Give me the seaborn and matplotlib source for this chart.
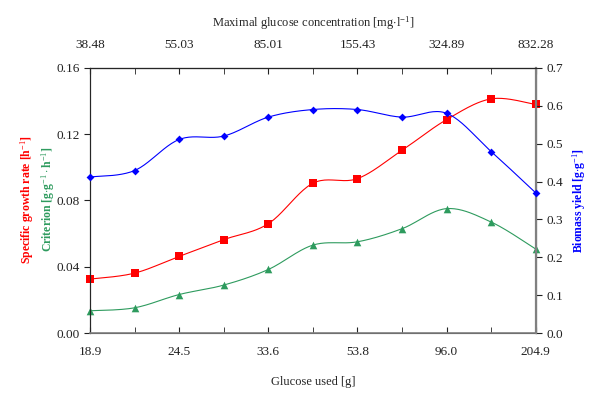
import numpy as np
import pandas as pd
import matplotlib
matplotlib.use("Agg")
import matplotlib.pyplot as plt
import seaborn as sns

# data
glucose_used = ["18.9", "24.5", "33.6", "53.8", "96.0", "204.9"]
max_glucose = ["38.48", "55.03", "85.01", "155.43", "324.89", "832.28"]
growth_rate = [0.0326, 0.0362, 0.0463, 0.0564, 0.0660, 0.0904, 0.0932, 0.1103, 0.1288, 0.1413, 0.1379]
criterion = [0.0135, 0.0153, 0.0233, 0.0290, 0.0384, 0.0531, 0.0551, 0.0630, 0.0751, 0.0670, 0.0507]
biomass_yield = [0.412, 0.429, 0.511, 0.520, 0.570, 0.590, 0.590, 0.570, 0.580, 0.479, 0.370]

idx = np.arange(len(growth_rate))

sns.set_style("ticks")
plt.rcParams["font.family"] = ["Liberation Serif", "DejaVu Serif"]
plt.rcParams["mathtext.fontset"] = "custom"
plt.rcParams["mathtext.rm"] = "Liberation Serif"
plt.rcParams["mathtext.it"] = "Liberation Serif:italic"
plt.rcParams["mathtext.bf"] = "Liberation Serif:bold"


def smooth(y, sx, sy, n=24):
    # excel-like smoothed line (bezier through the points)
    pts = np.column_stack([np.arange(len(y)) * sx, np.asarray(y) * sy])
    pad = np.vstack([pts[0], pts, pts[-1]])
    xs, ys = [], []
    t = np.linspace(0, 1, n)[:, None]
    for i in range(1, len(pad) - 2):
        p0, p1, p2, p3 = pad[i - 1], pad[i], pad[i + 1], pad[i + 2]
        c1 = p1 + (p2 - p0) / 6
        c2 = p2 - (p3 - p1) / 6
        seg = (1 - t) ** 3 * p1 + 3 * (1 - t) ** 2 * t * c1 + 3 * (1 - t) * t ** 2 * c2 + t ** 3 * p2
        xs.append(seg[:, 0])
        ys.append(seg[:, 1])
    return np.concatenate(xs) / sx, np.concatenate(ys) / sy


fig, ax = plt.subplots(figsize=(6, 3.99), dpi=100)
fig.subplots_adjust(left=0.15, right=0.893, top=0.83, bottom=0.165)
ax2 = ax.twinx()

red = "#ff0000"
green = "#2e9b5e"
blue = "#0000ff"

sx = 44.6
for vals, col, mk, ms, a in [(growth_rate, red, "s", 26, ax), (criterion, green, "^", 30, ax)]:
    cx, cy = smooth(vals, sx, 265 / 0.16)
    sns.lineplot(x=cx, y=cy, ax=a, color=col, lw=0.8, sort=False, estimator=None)
    sns.scatterplot(x=idx, y=vals, ax=a, color=col, marker=mk, s=ms, linewidth=0, zorder=3, clip_on=False)

cx, cy = smooth(biomass_yield, sx, 265 / 0.7)
sns.lineplot(x=cx, y=cy, ax=ax2, color=blue, lw=0.8, sort=False, estimator=None)
sns.scatterplot(x=idx, y=biomass_yield, ax=ax2, color=blue, marker="D", s=16, linewidth=0, zorder=3, clip_on=False)

ax.set_xlim(0, 10)
ax.set_ylim(0, 0.16)
ax2.set_ylim(0, 0.7)
ax.set_yticks(np.arange(0, 0.161, 0.04))
ax.set_yticklabels([f"{v:.2f}" for v in np.arange(0, 0.161, 0.04)])
ax2.set_yticks(np.arange(0, 0.71, 0.1))
ax2.set_yticklabels([f"{v:.1f}" for v in np.arange(0, 0.71, 0.1)])

ax.set_xticks(idx[::2])
ax.set_xticklabels(glucose_used)
ax.set_xticks(idx[1::2], minor=True)
ax.tick_params(axis="x", which="both", direction="in", length=4, labelsize=9.5, colors="#222222", pad=9)
ax.tick_params(axis="y", direction="out", length=4, labelsize=9.5, colors="#222222")
ax2.tick_params(axis="y", direction="out", length=4, labelsize=9.5, colors="#222222")

top = ax.secondary_xaxis("top")
top.set_xticks(idx[::2])
top.set_xticklabels(max_glucose)
top.set_xticks(idx[1::2], minor=True)
top.tick_params(axis="x", which="both", direction="in", length=4, labelsize=9.5, colors="#222222", pad=12)
top.set_xlabel(r"Maximal glucose concentration [mg$\cdot$l$^{-1}$]", fontsize=9, labelpad=9)

for s in ["top", "right", "bottom", "left"]:
    ax.spines[s].set_visible(True)
    ax2.spines[s].set_visible(True)
ax2.spines["right"].set_color("#808080")
ax2.spines["right"].set_linewidth(1.6)
ax2.spines["bottom"].set_color("#808080")
ax2.spines["bottom"].set_linewidth(1.2)
ax.spines["left"].set_color("#333333")
ax.spines["top"].set_color("#333333")
top.spines["top"].set_color("#333333")

ax.set_xlabel("Glucose used [g]", fontsize=9, labelpad=13)
ax.set_ylabel("")
ax2.set_ylabel(r"Biomass yield [g$\cdot$g$^{-1}$]", color=blue, fontsize=8.5, fontweight="bold", labelpad=5)
fig.text(0.045, 0.5, r"Specific growth rate [h$^{-1}$]", color=red, fontsize=8.5, fontweight="bold",
         rotation=90, ha="center", va="center")
fig.text(0.08, 0.5, r"Criterion [g$\cdot$g$^{-1}\cdot$h$^{-1}$]", color=green, fontsize=8.5, fontweight="bold",
         rotation=90, ha="center", va="center")

fig.savefig("out.png", dpi=100)
